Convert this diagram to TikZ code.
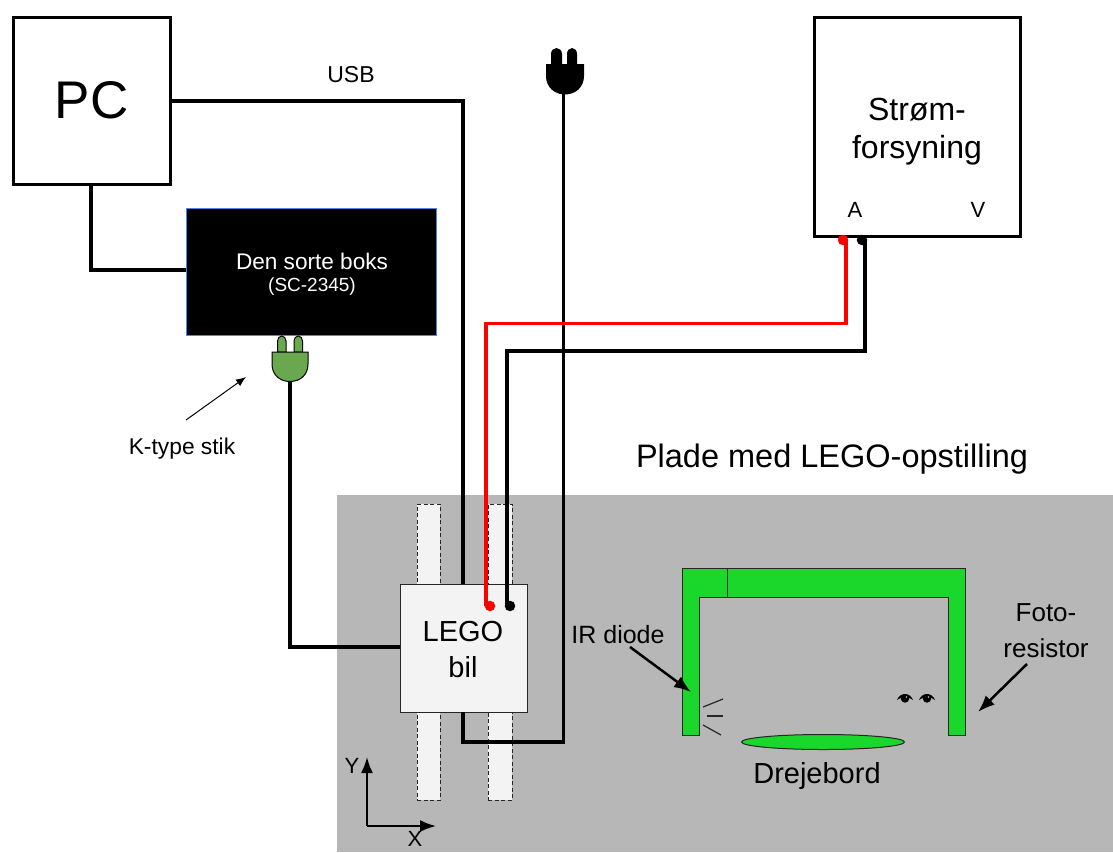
\documentclass[tikz,border=0pt]{standalone}
\usepackage{fontspec}
\setmainfont{Liberation Sans}
\usetikzlibrary{arrows.meta,shapes.geometric}
\definecolor{platecol}{HTML}{B7B7B7}
\definecolor{railcol}{HTML}{F3F3F3}
\definecolor{bridgecol}{HTML}{19D72B}
\definecolor{plugcol}{HTML}{6AA84F}
\definecolor{bluecol}{HTML}{4A86E8}
\newcommand{\fs}[1]{\fontsize{#1pt}{#1pt}\selectfont}
\newcommand{\eyeat}[2]{%
  \fill[black] (#1-8,#2+2) .. controls (#1-5,#2-6) and (#1+5,#2-6) .. (#1+8,#2+2) .. controls (#1+5,#2-1.5) and (#1-5,#2-1.5) .. cycle;
  \fill[black] (#1,#2+0.5) circle[radius=4.2pt];
  \fill[platecol] (#1+1.5,#2-1) circle[radius=0.8pt];}
\tikzset{
  every node/.style={inner sep=0pt,outer sep=0pt},
  wire/.style={line width=3.5pt,line join=miter,draw=black},
  redwire/.style={wire,draw=red},
  bigbox/.style={draw=black,line width=3pt,fill=white,align=center},
  railbox/.style={draw=black!85,line width=1pt,dash pattern=on 4pt off 2.5pt,fill=railcol},
  legobox/.style={draw=black!85,line width=1pt,fill=railcol,align=center},
  thinarrow/.style={line width=1pt,-{Latex[length=10pt,width=8pt]}},
  fatarrow/.style={line width=2.5pt,-{Latex[length=17pt,width=13pt]}},
  axisarrow/.style={line width=2pt,-{Latex[length=16pt,width=12pt]}},
  plugblack/.style={fill=black,draw=black,line width=1pt},
  pluggreen/.style={fill=plugcol,draw=black,line width=1pt},
  raystyle/.style={line width=1.2pt,draw=black!85},
  lbl/.style={text=black,align=center},
  dotmark/.style={circle,minimum size=10.5pt},
  greenshape/.style={fill=bridgecol,draw=black!85,line width=1pt},
}
\begin{document}
\begin{tikzpicture}[x=1pt,y=-1pt]
\useasboundingbox (0,0) rectangle (1113,852);
% plate
\fill[platecol] (337,495) rectangle (1113,852);
% rails
\node[railbox,minimum width=23pt,minimum height=296pt] (railL) at (428.5,652) {};
\node[railbox,minimum width=24pt,minimum height=296pt] (railR) at (500,652) {};
% boxes
\node[bigbox,minimum width=157pt,minimum height=167pt] (pc) at (91.5,100.5) {\fs{53}PC};
\node[draw=bluecol,line width=1pt,fill=black,minimum width=250pt,minimum height=127pt] (sort) at (311,271.5) {};
\node[text=white] (sort1) at (312,261) {\fs{22.6}Den sorte boks};
\node[text=white] (sort2) at (312,287) {\fs{19}(SC-2345)};
\node[bigbox,minimum width=206pt,minimum height=219pt] (psu) at (917,126.5) {};
\node[lbl] (stroem1) at (917,110) {\fs{32}Strøm-};
\node[lbl] (stroem2) at (917,150) {\fs{32}forsyning};
\node[lbl] (lblA) at (855,210) {\fs{22}A};
\node[lbl] (lblV) at (978,210) {\fs{22}V};
\node[legobox,minimum width=127pt,minimum height=128pt] (lego) at (463.5,648) {};
\node[lbl] (lego1) at (463,632) {\fs{29}LEGO};
\node[lbl] (lego2) at (463,667) {\fs{29}bil};
% plugs
\node[minimum width=38pt,minimum height=46pt] (plugB) at (565,71) {};
\fill[black] (551,64) -- (551,54) arc[start angle=180,end angle=0,x radius=5.5pt,y radius=6pt] -- (562,64) -- cycle;
\fill[black] (567,64) -- (567,54) arc[start angle=180,end angle=0,x radius=5pt,y radius=6pt] -- (577,64) -- cycle;
\draw[plugblack] (546.5,64.5) -- (583.5,64.5) -- (583.5,76) .. controls (583.5,87) and (575,94) .. (565,94) .. controls (555,94) and (546.5,87) .. (546.5,76) -- cycle;
\node[minimum width=38pt,minimum height=46pt] (plugG) at (290,359) {};
\draw[pluggreen] (277.5,352) -- (277.5,341) arc[start angle=180,end angle=0,x radius=4.25pt,y radius=5pt] -- (286,352) -- cycle;
\draw[pluggreen] (294,352) -- (294,341) arc[start angle=180,end angle=0,x radius=4.25pt,y radius=5pt] -- (302.5,352) -- cycle;
\draw[pluggreen] (272,352) -- (308,352) -- (308,364) .. controls (308,375) and (300,381.5) .. (290,381.5) .. controls (280,381.5) and (272,375) .. (272,364) -- cycle;
% wires
\coordinate (usbB) at (463,101);
\coordinate (usbC) at (463,584);
\draw[wire] (pc.east |- usbB) -- (usbB) -- (usbC);
\node[lbl] (usblbl) at (351,75) {\fs{23}USB};
\coordinate (pcK) at (91,270);
\draw[wire] (pc.south -| pcK) -- (pcK) -- (sort.west |- pcK);
\coordinate (gS) at (290,381);
\coordinate (gK) at (290,647);
\draw[wire] (gS) -- (gK) -- (lego.west |- gK);
\coordinate (bS) at (563.5,94);
\coordinate (bK) at (563.5,742);
\coordinate (bL) at (463,742);
\draw[wire] (bS) -- (bK) -- (bL) -- (lego.south -| bL);
% meter leads
\node[dotmark,fill=red] (dotRA) at (843,240) {};
\node[dotmark,fill=black] (dotBA) at (862,240) {};
\node[dotmark,fill=red] (dotRL) at (490,606) {};
\node[dotmark,fill=black] (dotBL) at (510,606) {};
\coordinate (r1) at (846,240);
\coordinate (r2) at (846,323.5);
\coordinate (r3) at (486,323.5);
\coordinate (r4) at (486,606);
\draw[redwire] (r1) -- (r2) -- (r3) -- (r4);
\coordinate (k1) at (865,240);
\coordinate (k2) at (865,351);
\coordinate (k3) at (507,351);
\coordinate (k4) at (507,606);
\draw[wire] (k1) -- (k2) -- (k3) -- (k4);
% k-type label
\node[lbl] (ktype) at (182,449) {\fs{22.8}K-type stik};
\coordinate (kt1) at (186,420);
\coordinate (kt2) at (246,377);
\draw[thinarrow] (kt1) -- (kt2);
% plate title
\node[lbl] (plade) at (832,459) {\fs{32.5}Plade med LEGO-opstilling};
% bridge
\draw[greenshape] (682,568) -- (965,568) -- (965,735) -- (948,735) -- (948,597) -- (699,597) -- (699,735) -- (682,735) -- cycle;
\draw[draw=black!85,line width=1pt] (727,568) -- (727,597);
\node[greenshape,ellipse,minimum width=163pt,minimum height=15pt] (turntable) at (823,742) {};
\node[lbl] (drej) at (817,776) {\fs{29}Drejebord};
% IR diode
\node[lbl] (irlbl) at (618,635) {\fs{25}IR diode};
\coordinate (ir1) at (630,647);
\coordinate (ir2) at (691,692);
\draw[fatarrow] (ir1) -- (ir2);
\draw[raystyle] (703,707) -- (723,699);
\draw[raystyle] (707,716) -- (723,716);
\draw[raystyle] (703,725) -- (721,735);
% photo resistor
\node[lbl] (foto1) at (1046,613) {\fs{26}Foto-};
\node[lbl] (foto2) at (1046,648) {\fs{26}resistor};
\coordinate (fr1) at (1027,664);
\coordinate (fr2) at (978,712);
\draw[fatarrow] (fr1) -- (fr2);
\eyeat{905}{698}
\eyeat{927}{698}
% axes
\coordinate (ax0) at (367,826);
\coordinate (axY) at (367,757);
\coordinate (axX) at (436,826);
\draw[axisarrow] (ax0) -- (axY);
\draw[axisarrow] (ax0) -- (axX);
\node[lbl] (ylbl) at (352,766) {\fs{22}Y};
\node[lbl] (xlbl) at (415,839) {\fs{22}X};
\end{tikzpicture}
\end{document}
